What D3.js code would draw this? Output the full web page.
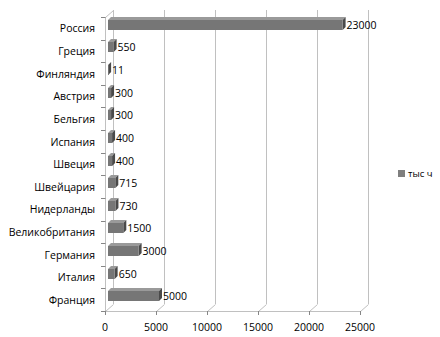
<!DOCTYPE html>
<html>
<head>
<meta charset="utf-8">
<script src="https://cdn.jsdelivr.net/npm/d3@7"></script>
<style>
  body { margin: 0; background: #fff; }
  svg text { font-family: "Open Sans", "Liberation Sans", sans-serif; font-size: 10.5px; fill: #000; }
</style>
</head>
<body>
<div id="chart"></div>
<script>
// data
var countries = ["Россия", "Греция", "Финляндия", "Австрия", "Бельгия", "Испания", "Швеция",
                 "Швейцария", "Нидерланды", "Великобритания", "Германия", "Италия", "Франция"];
var values = [23000, 550, 11, 300, 300, 400, 400, 715, 730, 1500, 3000, 650, 5000];
var xTicks = [0, 5000, 10000, 15000, 20000, 25000];
var seriesName = "тыс ч";

var width = 440, height = 337;
var plotLeft = 105, plotRight = 360, plotTop = 17, plotBottom = 311;
// depth of the back wall and of the bars
var wallDx = 8, wallDy = -7;
var barDx = 3, barDy = -3;

var svg = d3.select("#chart")
    .append("svg")
    .attr("width", width)
    .attr("height", height);

var x = d3.scaleLinear()
    .domain([0, 25000])
    .range([plotLeft, plotRight]);

var y = d3.scaleBand()
    .domain(countries)
    .range([plotTop, plotBottom]);

// back wall gridlines
svg.append("g")
    .selectAll("line")
    .data(xTicks)
    .enter()
    .append("line")
    .attr("x1", d => Math.round(x(d)) + wallDx + 0.5)
    .attr("x2", d => Math.round(x(d)) + wallDx + 0.5)
    .attr("y1", plotTop + wallDy)
    .attr("y2", plotBottom + wallDy)
    .attr("stroke", "#c0c0c0");

// floor diagonals from the front axis to the wall
svg.append("g")
    .selectAll("line")
    .data(xTicks)
    .enter()
    .append("line")
    .attr("x1", d => Math.round(x(d)) + 0.5)
    .attr("x2", d => Math.round(x(d)) + wallDx + 0.5)
    .attr("y1", plotBottom + 0.5)
    .attr("y2", plotBottom + wallDy + 0.5)
    .attr("stroke", "#c0c0c0");

// top diagonal of the side wall
svg.append("line")
    .attr("x1", plotLeft + 0.5).attr("y1", plotTop + 0.5)
    .attr("x2", plotLeft + wallDx + 0.5).attr("y2", plotTop + wallDy + 0.5)
    .attr("stroke", "#c0c0c0");

// front axes
svg.append("line")
    .attr("x1", plotLeft + 0.5).attr("x2", plotLeft + 0.5)
    .attr("y1", plotTop).attr("y2", plotBottom + 0.5)
    .attr("stroke", "#c0c0c0");
svg.append("line")
    .attr("x1", plotLeft).attr("x2", plotRight + 0.5)
    .attr("y1", plotBottom + 0.5).attr("y2", plotBottom + 0.5)
    .attr("stroke", "#c0c0c0");

// category tick marks
var catTicks = countries.map(c => y(c)).concat([plotBottom]);
svg.append("g")
    .selectAll("line")
    .data(catTicks)
    .enter()
    .append("line")
    .attr("x1", plotLeft - 4)
    .attr("x2", plotLeft + 0.5)
    .attr("y1", d => Math.round(d) + 0.5)
    .attr("y2", d => Math.round(d) + 0.5)
    .attr("stroke", "#868686");

// value axis tick marks and labels
var xAxisG = svg.append("g");
xAxisG.selectAll("line")
    .data(xTicks)
    .enter()
    .append("line")
    .attr("x1", d => Math.round(x(d)) + 0.5)
    .attr("x2", d => Math.round(x(d)) + 0.5)
    .attr("y1", plotBottom)
    .attr("y2", plotBottom + 4)
    .attr("stroke", "#868686");
xAxisG.selectAll("text")
    .data(xTicks)
    .enter()
    .append("text")
    .attr("x", d => x(d))
    .attr("y", plotBottom + 20)
    .attr("text-anchor", "middle")
    .text(d => d);

// category labels
svg.append("g")
    .selectAll("text")
    .data(countries)
    .enter()
    .append("text")
    .attr("x", 95)
    .attr("y", d => y(d) + y.bandwidth() / 2 + 0.5)
    .attr("dy", "0.35em")
    .attr("text-anchor", "end")
    .text(d => d);

// 3d bars
var bars = svg.append("g")
    .selectAll("g")
    .data(countries.map((c, i) => ({country: c, value: values[i]})))
    .enter()
    .append("g");

function barY(d) { return Math.round(y(d.country) + y.bandwidth() / 2 - 8.5); }
var barH = 10;

// top face
bars.append("path")
    .attr("d", function (d) {
        var x0 = x(0) + barDx, x1 = x(d.value) + barDx, y0 = barY(d);
        return "M" + x0 + "," + y0 + "L" + (x0 + barDx) + "," + (y0 + barDy) +
            "L" + (x1 + barDx) + "," + (y0 + barDy) + "L" + x1 + "," + y0 + "Z";
    })
    .attr("fill", "#9a9a9a");

// side face
bars.append("path")
    .attr("d", function (d) {
        var x1 = x(d.value) + barDx, y0 = barY(d);
        return "M" + x1 + "," + y0 + "L" + (x1 + barDx) + "," + (y0 + barDy) +
            "L" + (x1 + barDx) + "," + (y0 + barDy + barH) + "L" + x1 + "," + (y0 + barH) + "Z";
    })
    .attr("fill", "#4a4a4a");

// front face
bars.append("rect")
    .attr("x", x(0) + barDx)
    .attr("y", d => barY(d))
    .attr("width", d => Math.max(0.8, x(d.value) - x(0)))
    .attr("height", barH)
    .attr("fill", "#767676");

// value labels
bars.append("text")
    .attr("x", d => x(d.value) + barDx * 2 + 1)
    .attr("y", d => barY(d) + barH / 2)
    .attr("dy", "0.35em")
    .text(d => d.value);

// legend
var legend = svg.append("g")
    .attr("transform", "translate(398,170)");
legend.append("rect")
    .attr("width", 7)
    .attr("height", 7)
    .attr("fill", "#7f7f7f");
legend.append("text")
    .attr("x", 10)
    .attr("y", 3.5)
    .attr("dy", "0.35em")
    .style("font-size", "9.5px")
    .text(seriesName);
</script>
</body>
</html>
